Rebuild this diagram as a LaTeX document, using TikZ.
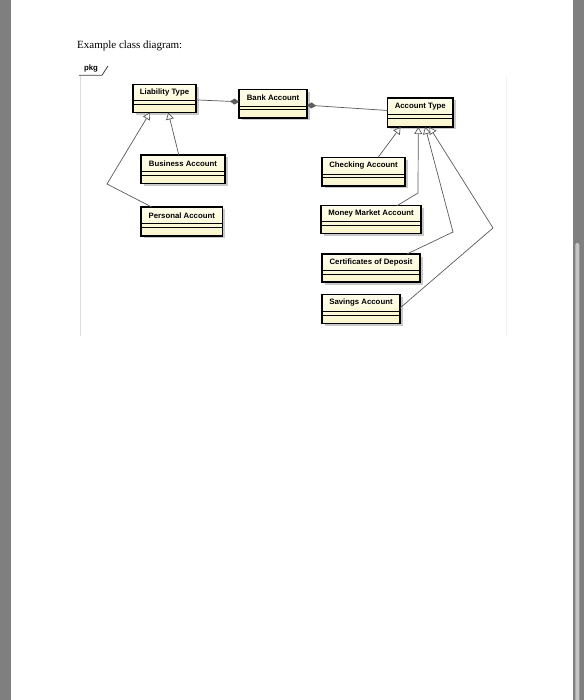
\documentclass[tikz,border=0pt]{standalone}
\usepackage{fontspec}
\setmainfont{Liberation Serif}
\newfontfamily\boxfont{Liberation Sans}
\usetikzlibrary{arrows.meta,calc}
\definecolor{pagegray}{HTML}{7F7F7F}
\definecolor{scrollc}{HTML}{C4C4C4}
\definecolor{boxtop}{HTML}{FFFEEC}
\definecolor{boxbot}{HTML}{F9F5CC}
\definecolor{shadowc}{HTML}{C9C9C9}
\definecolor{connc}{HTML}{5A5A5A}
\definecolor{diamc}{HTML}{5F5F5F}
\definecolor{framec}{HTML}{DCDCDC}
\definecolor{framefaint}{HTML}{F2F2F2}
\tikzset{
  classbox/.style={rectangle, inner sep=0pt, outer sep=0pt, draw=none, top color=boxtop, bottom color=boxbot},
  classborder/.style={draw=black, line width=1.5pt, line join=miter},
  divider/.style={draw=black, line width=0.7pt},
  classname/.style={font=\boxfont\bfseries\fontsize{7.8}{9}\selectfont, inner sep=0pt, anchor=center},
  conn/.style={draw=connc, line width=0.7pt},
  gen/.style={conn, -{Triangle[length=7pt, width=8pt, fill=white]}},
  aggend/.style={conn, -{Diamond[length=9pt, width=6pt, fill=diamc]}},
  aggstart/.style={conn, {Diamond[length=9pt, width=6pt, fill=diamc]}-},
}
\newcommand\umlclass[6]{%
  \fill[shadowc] (#2+2.5,#3+2.5) rectangle (#4+2.5,#5+2.5);
  \node[classbox, minimum width={(#4-#2)*1pt}, minimum height={(#5-#3)*1pt}] (#1) at ({(#2+#4)/2},{(#3+#5)/2}) {};
  \draw[divider] ($(#1.north west)!0.575!(#1.south west)$) -- ($(#1.north east)!0.575!(#1.south east)$);
  \draw[divider] ($(#1.north west)!0.71!(#1.south west)$) -- ($(#1.north east)!0.71!(#1.south east)$);
  \draw[classborder] (#1.north west) rectangle (#1.south east);
  \node[classname] (#1-name) at ($(#1.north)!0.29!(#1.south)$) {#6};
}
\begin{document}
\begin{tikzpicture}[x=1pt, y=-1pt]
\useasboundingbox (0,0) rectangle (584,700);
\fill[white] (0,0) rectangle (584,700);
% page margins
\fill[pagegray] (0,0) rectangle (11,700);
\fill[pagegray] (572.7,0) rectangle (584,700);
\fill[scrollc, rounded corners=2pt] (575.3,243) rectangle (579.3,705);
% title
\node[anchor=base west, inner sep=0pt, font=\fontsize{11}{13}\selectfont] (title) at (77,49) {Example class diagram:};
% package frame
\draw[framec, line width=0.8pt] (80.7,75.3) -- (80.7,336);
\draw[framefaint, line width=0.8pt] (506.7,75.3) -- (506.7,336);
\draw[black!75, line width=0.8pt] (79,75.3) -- (102,75.3) -- (108,66);
\node[classname] (pkg) at (91,69) {pkg};
% classes
\umlclass{lia}{133}{84.5}{196}{112.5}{Liability Type}
\umlclass{bank}{239}{89.5}{307}{118}{Bank Account}
\umlclass{acct}{387.5}{98}{453}{127}{Account Type}
\umlclass{bus}{141}{155}{225}{183.5}{Business Account}
\umlclass{per}{141}{207}{222.5}{236}{Personal Account}
\umlclass{chk}{322}{157.5}{405}{186}{Checking Account}
\umlclass{mm}{321}{205.7}{421}{233.5}{Money Market Account}
\umlclass{cert}{322}{254}{420}{282}{Certificates of Deposit}
\umlclass{sav}{322}{294.3}{400}{323.5}{Savings Account}
% waypoints
\coordinate (wpA) at (107,184);
\coordinate (wpB) at (418,193);
\coordinate (wpC) at (453,232);
\coordinate (wpD) at (493,228);
% associations
\draw[aggend] ($(lia.north east)!0.55!(lia.south east)$) -- ($(bank.north west)!0.43!(bank.south west)$);
\draw[aggstart] ($(bank.north east)!0.55!(bank.south east)$) -- ($(acct.north west)!0.43!(acct.south west)$);
% generalizations
\draw[gen] ($(bus.north west)!0.45!(bus.north east)$) -- ($(lia.south west)!0.56!(lia.south east)$);
\draw[gen] ($(per.north west)!0.13!(per.north east)$) -- (wpA) -- ($(lia.south west)!0.27!(lia.south east)$);
\draw[gen] ($(chk.north west)!0.675!(chk.north east)$) -- ($(acct.south west)!0.2!(acct.south east)$);
\draw[gen] ($(mm.north west)!0.76!(mm.north east)$) -- (wpB) -- ($(acct.south west)!0.47!(acct.south east)$);
\draw[gen] ($(cert.north west)!0.867!(cert.north east)$) -- (wpC) -- ($(acct.south west)!0.575!(acct.south east)$);
\draw[gen] ($(sav.north east)!0.47!(sav.south east)$) -- (wpD) -- ($(acct.south west)!0.64!(acct.south east)$);
\end{tikzpicture}
\end{document}
